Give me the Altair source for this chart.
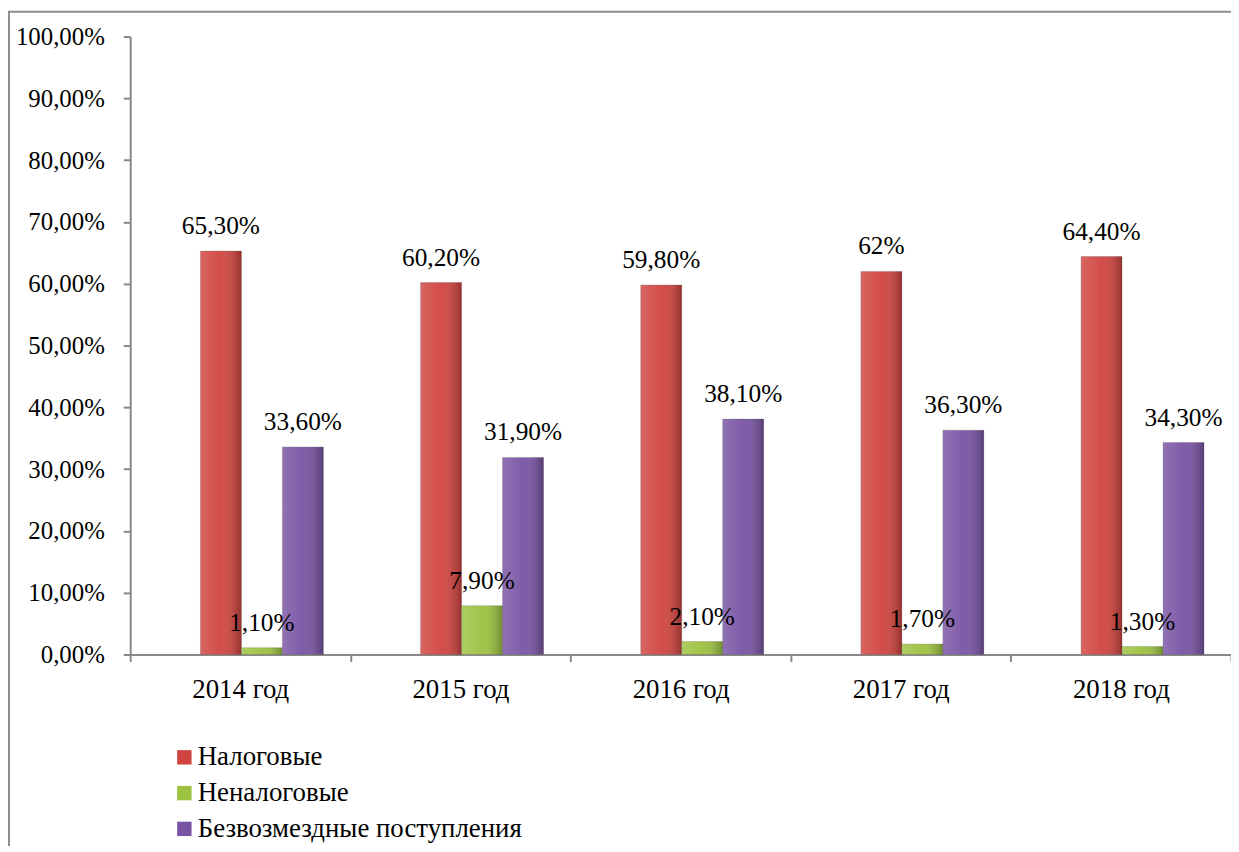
import altair as alt
import pandas as pd

years = ["2014 год", "2015 год", "2016 год", "2017 год", "2018 год"]
series = ["Налоговые", "Неналоговые", "Безвозмездные поступления"]
nalog = [65.3, 60.2, 59.8, 62.0, 64.4]
nenalog = [1.1, 7.9, 2.1, 1.7, 1.3]
bezv = [33.6, 31.9, 38.1, 36.3, 34.3]
nalog_lbl = ["65,30%", "60,20%", "59,80%", "62%", "64,40%"]
nenalog_lbl = ["1,10%", "7,90%", "2,10%", "1,70%", "1,30%"]
bezv_lbl = ["33,60%", "31,90%", "38,10%", "36,30%", "34,30%"]
colors = ["#D0433F", "#9CC240", "#7853A3"]

rows = []
for vals, lbls, s in [(nalog, nalog_lbl, series[0]), (nenalog, nenalog_lbl, series[1]), (bezv, bezv_lbl, series[2])]:
    for y, v, l in zip(years, vals, lbls):
        rows.append({"year": y, "series": s, "value": v, "label": l})
df = pd.DataFrame(rows)

W, H = 1108, 622
FONT = "Liberation Serif"
offset_domain = ["_gap"] + series

x_enc = alt.X("year:N", sort=years, scale=alt.Scale(paddingInner=0, paddingOuter=0),
              axis=alt.Axis(title=None, labelAngle=0, tickBand="extent", labelPadding=15,
                            labelFontSize=27))
xo_enc = alt.XOffset("series:N",
                     scale=alt.Scale(domain=offset_domain, paddingInner=0, paddingOuter=0.686,
                                     align=0.52))
y_enc = alt.Y("value:Q", scale=alt.Scale(domain=[0, 100], nice=False),
              axis=alt.Axis(title=None, values=list(range(0, 101, 10)),
                            labelExpr="replace(format(datum.value, '.2f'), '.', ',') + '%'",
                            labelPadding=19, labelFontSize=25))

base = alt.Chart(df)

bars = base.mark_bar(stroke="#5a5a5a", strokeOpacity=0.25, strokeWidth=1).encode(
    x=x_enc, xOffset=xo_enc, y=y_enc,
    color=alt.Color("series:N",
                    scale=alt.Scale(domain=series, range=colors),
                    legend=alt.Legend(title=None, orient="none", legendX=41, legendY=712,
                                      symbolType="square", symbolSize=210, symbolStrokeWidth=0,
                                      labelFont=FONT, labelFontSize=27, labelColor="black",
                                      labelOffset=0, rowPadding=8, padding=0, labelLimit=0)),
)

shade = base.mark_bar(color=alt.Gradient(
    gradient="linear", x1=0, x2=1, y1=0, y2=0,
    stops=[alt.GradientStop(color="rgba(255,255,255,0.18)", offset=0),
           alt.GradientStop(color="rgba(255,255,255,0.05)", offset=0.5),
           alt.GradientStop(color="rgba(0,0,0,0.28)", offset=1)])).encode(
    x=alt.X("year:N", sort=years), xOffset=alt.XOffset("series:N"), y="value:Q")

texts = base.mark_text(font=FONT, fontSize=25.5, dy=-17, baseline="alphabetic", color="black").encode(
    x=alt.X("year:N", sort=years), xOffset=alt.XOffset("series:N"), y="value:Q",
    text="label:N")

dummy = alt.Chart(alt.Data(values=[{"a": 1}]))
border_top = dummy.mark_rule(color="#8c8c8c", strokeWidth=2).encode(
    x=alt.value(-123), x2=alt.value(W), y=alt.value(-25))
border_left = dummy.mark_rule(color="#8c8c8c", strokeWidth=2).encode(
    x=alt.value(-122), y=alt.value(-25), y2=alt.value(H + 195))

chart = alt.layer(border_top, border_left, bars, shade, texts).properties(
    width=W, height=H,
    autosize=alt.AutoSizeParams(type="none"),
    padding={"left": 123, "top": 26, "right": 0, "bottom": 190}
).configure_view(stroke=None).configure_axis(
    grid=False, domainColor="#888888", domainWidth=2, tickColor="#888888", tickWidth=2,
    tickSize=7, labelFont=FONT, labelColor="black"
)

chart.save("out.html", embed_options={"renderer": "svg", "actions": False})
